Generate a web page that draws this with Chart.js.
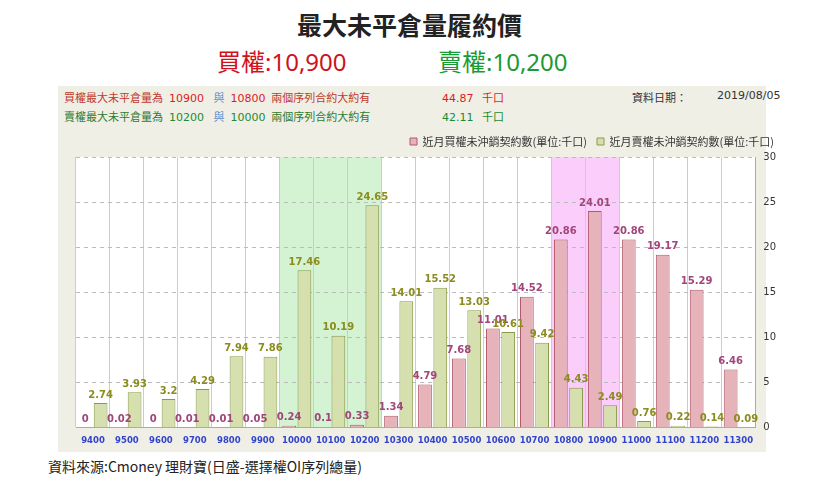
<!DOCTYPE html>
<html><head><meta charset="utf-8">
<script src="https://cdn.jsdelivr.net/npm/chart.js@4/dist/chart.umd.min.js"></script>
<style>
body{margin:0;width:819px;height:486px;background:#fff;position:relative;font-family:"Noto Sans CJK TC",sans-serif;overflow:hidden}
.a{position:absolute;white-space:nowrap}
#panel{position:absolute;left:58px;top:86px;width:708px;height:366px;background:#efefe6}
</style></head><body>
<div class="a" style="left:0;width:819px;text-align:center;top:6px;font-size:25px;color:#222;font-weight:bold">最大未平倉量履約價</div>
<div class="a" style="left:217px;top:46px;font-size:24px;color:#d0121b;line-height:30px">買權<span style="font-family:'Noto Sans'">:10,900</span></div>
<div class="a" style="left:438px;top:46px;font-size:24px;color:#1a9a35;line-height:30px">賣權<span style="font-family:'Noto Sans'">:10,200</span></div>
<div id="panel"></div>
<div class="a" style="left:64px;top:89px;font-size:11px;color:#c0392b">買權最大未平倉量為 <span style="color:#e01b24;font-family:'DejaVu Sans'">&nbsp;10900&nbsp;&nbsp;</span> <span style="color:#6a8fc9">與</span> <span style="color:#e01b24;font-family:'DejaVu Sans'">&nbsp;10800&nbsp;</span> 兩個序列合約大約有</div>
<div class="a" style="left:64px;top:108px;font-size:11px;color:#2f7a2f">賣權最大未平倉量為 <span style="color:#1f8a2f;font-family:'DejaVu Sans'">&nbsp;10200&nbsp;&nbsp;</span> <span style="color:#6a8fc9">與</span> <span style="color:#1f8a2f;font-family:'DejaVu Sans'">&nbsp;10000&nbsp;</span> 兩個序列合約大約有</div>
<div class="a" style="left:442px;top:89px;font-size:11px;color:#e01b24;font-family:'DejaVu Sans'">44.87 <span style="font-family:'Noto Sans CJK TC'">&nbsp;&nbsp;千口</span></div>
<div class="a" style="left:442px;top:108px;font-size:11px;color:#1f8a2f;font-family:'DejaVu Sans'">42.11 <span style="font-family:'Noto Sans CJK TC'">&nbsp;&nbsp;千口</span></div>
<div class="a" style="left:632px;top:89px;font-size:11px;color:#333">資料日期：</div>
<div class="a" style="left:717px;top:89px;font-size:11px;color:#333;font-family:'DejaVu Sans'">2019/08/05</div>
<div class="a" style="left:48px;top:456px;font-size:14px;color:#222">資料來源:Cmoney 理財寶(日盛-選擇權OI序列總量)</div>
<div class="a" style="left:58px;top:126px;width:726px;height:328px"><canvas id="c"></canvas></div>
<script>
const categories=["9400","9500","9600","9700","9800","9900","10000","10100","10200","10300","10400","10500","10600","10700","10800","10900","11000","11100","11200","11300"];
const callOI=[0,0.02,0,0.01,0.01,0.05,0.24,0.1,0.33,1.34,4.79,7.68,11.01,14.52,20.86,24.01,20.86,19.17,15.29,6.46];
const putOI=[2.74,3.93,3.2,4.29,7.94,7.86,17.46,10.19,24.65,14.01,15.52,13.03,10.61,9.42,4.43,2.49,0.76,0.22,0.14,0.09];
const bands=[{from:"10000",to:"10200",color:"rgba(200,240,200,0.8)"},{from:"10800",to:"10900",color:"rgba(250,200,250,0.9)"}];
const bandPlugin={id:'bands',beforeDraw(ch){const x=ch.scales.x,a=ch.chartArea,c=ch.ctx;c.fillStyle='#fff';c.fillRect(a.left,a.top,a.right-a.left,a.bottom-a.top);
const w=x.getPixelForValue(1)-x.getPixelForValue(0);
bands.forEach(b=>{const i0=categories.indexOf(b.from),i1=categories.indexOf(b.to);c.fillStyle=b.color;c.fillRect(x.getPixelForValue(i0)-w/2,a.top,(i1-i0+1)*w,a.bottom-a.top);});}};
const labelPlugin={id:'lbl',afterDatasetsDraw(ch){const c=ch.ctx;c.font='bold 10px "DejaVu Sans"';c.textAlign='center';c.textBaseline='bottom';
ch.data.datasets.forEach((ds,di)=>{c.fillStyle=di==0?'#a0467a':'#8c8c1e';ch.getDatasetMeta(di).data.forEach((el,i)=>{c.fillText(String(ds.data[i]),el.x,el.y-3);});});}};
new Chart(document.getElementById('c'),{type:'bar',
data:{labels:categories,datasets:[
{label:'近月買權未沖銷契約數(單位:千口)',data:callOI,backgroundColor:'#e6b3bb',borderColor:'#b05a6a',borderWidth:1,categoryPercentage:0.9,barPercentage:0.9},
{label:'近月賣權未沖銷契約數(單位:千口)',data:putOI,backgroundColor:'#d6dfae',borderColor:'#8a9a4a',borderWidth:1,categoryPercentage:0.9,barPercentage:0.9}]},
options:{responsive:true,maintainAspectRatio:false,animation:false,
layout:{padding:{left:18,right:0,top:0,bottom:0}},
plugins:{legend:{align:'end',labels:{boxWidth:7,boxHeight:7,font:{size:11,family:'"Noto Sans CJK TC"'},color:'#333',padding:10}},tooltip:{enabled:false}},
scales:{x:{grid:{color:'#ccc',offset:true,drawTicks:false},border:{color:'#aaa'},ticks:{autoSkip:false,color:'#3344cc',font:{size:8.5,family:'"DejaVu Sans"',weight:'bold'},padding:8,maxRotation:0}},
y:{position:'right',min:0,max:30,grid:{color:'#bbb',drawTicks:false},border:{dash:[4,4],color:'#aaa'},ticks:{stepSize:5,color:'#333',font:{size:10,family:'"DejaVu Sans"'},padding:8}}}},
plugins:[bandPlugin,labelPlugin]});
</script></body></html>
